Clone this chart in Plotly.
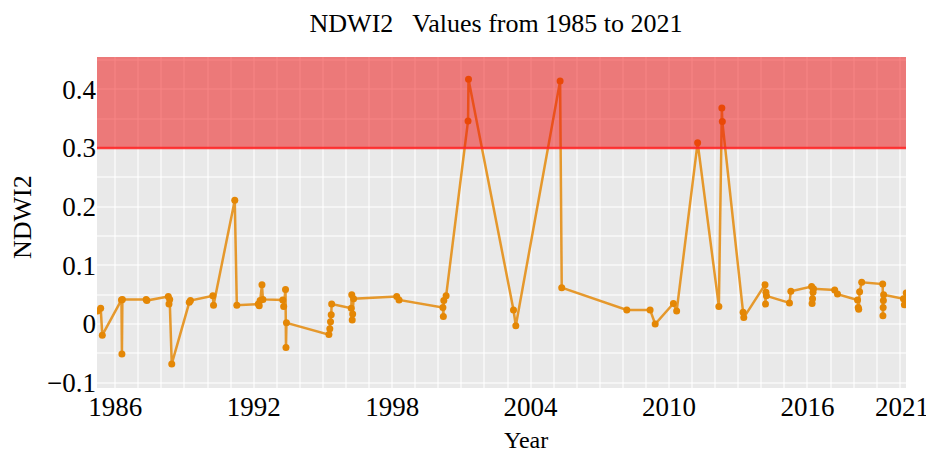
import plotly.graph_objects as go

# Observation dates (decimal years) and NDWI2 values
years = [
    1985.23, 1985.37, 1985.44,
    1986.27, 1986.29, 1986.31,
    1987.34, 1987.37,
    1988.30, 1988.33, 1988.36, 1988.45,
    1989.21, 1989.26,
    1990.23, 1990.26,
    1991.18, 1991.27,
    1992.20, 1992.24, 1992.28, 1992.36, 1992.40,
    1993.26, 1993.30, 1993.38, 1993.40, 1993.42,
    1995.26, 1995.30, 1995.33, 1995.36, 1995.38,
    1996.23, 1996.25, 1996.27, 1996.29, 1996.33,
    1998.20, 1998.30,
    2000.20, 2000.22, 2000.24, 2000.34,
    2001.29, 2001.31,
    2003.26, 2003.36,
    2005.28, 2005.35,
    2008.17,
    2009.18, 2009.40,
    2010.19, 2010.33,
    2011.24,
    2012.16, 2012.29, 2012.31,
    2013.21, 2013.24,
    2014.16, 2014.18, 2014.20, 2014.22,
    2015.22, 2015.28,
    2016.18, 2016.20, 2016.22, 2016.24, 2016.26,
    2017.18, 2017.30,
    2018.17, 2018.20, 2018.22, 2018.26, 2018.35,
    2019.26, 2019.27, 2019.28, 2019.29, 2019.30,
    2020.16, 2020.20, 2020.28,
]
ndwi2 = [
    0.022, 0.027, -0.019,
    0.041, -0.051, 0.042,
    0.042, 0.040,
    0.047, 0.034, 0.042, -0.068,
    0.037, 0.040,
    0.048, 0.032,
    0.211, 0.032,
    0.034, 0.031, 0.040, 0.067, 0.042,
    0.041, 0.030, 0.059, -0.040, 0.002,
    -0.018, -0.008, 0.004, 0.016, 0.034,
    0.027, 0.050, 0.007, 0.017, 0.043,
    0.047, 0.041,
    0.028, 0.013, 0.040, 0.048,
    0.346, 0.417,
    0.024, -0.003,
    0.414, 0.062,
    0.024,
    0.024, 0.000,
    0.035, 0.022,
    0.309,
    0.030, 0.368, 0.345,
    0.020, 0.011,
    0.067, 0.034, 0.054, 0.048,
    0.036, 0.056,
    0.064, 0.035, 0.043, 0.054, 0.060,
    0.058, 0.051,
    0.041, 0.028, 0.025, 0.055, 0.071,
    0.068, 0.014, 0.028, 0.040, 0.050,
    0.043, 0.033, 0.053,
]

x_tick_vals = [1986, 1992, 1998, 2004, 2010, 2016, 2020.1]
x_tick_text = ["1986", "1992", "1998", "2004", "2010", "2016", "2021"]
y_tick_vals = [-0.1, 0, 0.1, 0.2, 0.3, 0.4]
y_tick_text = ["\u22120.1", "0", "0.1", "0.2", "0.3", "0.4"]
threshold = 0.3
x_range = [1985.21, 2020.27]
y_range = [-0.109, 0.455]

FONT = "Liberation Serif"

# the page body adds an 8px margin, so the figure is drawn 8px smaller
W, H = 926, 444
L, R, T, B = 89, 28, 49, 64
PW, PH = W - L - R, H - T - B

fig = go.Figure()
fig.add_trace(go.Scatter(
    x=years, y=ndwi2, mode="lines+markers",
    line=dict(color="rgba(228,138,10,0.85)", width=2.5),
    marker=dict(color="rgb(228,135,5)", size=7),
    showlegend=False,
))

# threshold zone
fig.add_shape(type="rect", xref="paper", yref="y", x0=0, x1=1, y0=threshold, y1=y_range[1],
              fillcolor="rgba(240,10,10,0.5)", line_width=0, layer="above")
fig.add_shape(type="line", xref="paper", yref="y", x0=0, x1=1, y0=threshold, y1=threshold,
              line=dict(color="rgba(255,40,40,0.9)", width=2.5), layer="above")

GRID = "rgba(255,255,255,0.55)"

fig.update_layout(
    width=W, height=H,
    margin=dict(l=L, r=R, t=T, b=B),
    paper_bgcolor="white",
    plot_bgcolor="#E9E9E9",
    font=dict(family=FONT, size=27, color="black"),
    title=dict(text="NDWI2   Values from 1985 to 2021", x=488/W, xanchor="center",
               y=1 - 15/H, yanchor="middle", yref="container",
               font=dict(family=FONT, size=26, color="black")),
    xaxis=dict(range=x_range, tickvals=x_tick_vals, ticktext=x_tick_text,
               showgrid=False, zeroline=False, showline=False, automargin=False,
               ticks="",
               minor=dict(dtick=1, tick0=1986, showgrid=True,
                          gridcolor=GRID, gridwidth=1.5)),
    yaxis=dict(range=y_range, tickvals=y_tick_vals, ticktext=y_tick_text,
               showgrid=False, zeroline=False, showline=False, automargin=False,
               ticks="",
               minor=dict(dtick=0.05, tick0=0, showgrid=True,
                          gridcolor=GRID, gridwidth=1.5)),
    annotations=[
        dict(text="Year", xref="paper", yref="paper", x=(526-97)/PW, y=-(440-388)/PH,
             xanchor="center", yanchor="middle", showarrow=False,
             font=dict(family=FONT, size=24)),
        dict(text="NDWI2", xref="paper", yref="paper", x=-(97-22)/PW, y=(388-217)/PH,
             xanchor="center", yanchor="middle", textangle=-90, showarrow=False,
             font=dict(family=FONT, size=26)),
    ],
)

fig.write_html("out.html")
